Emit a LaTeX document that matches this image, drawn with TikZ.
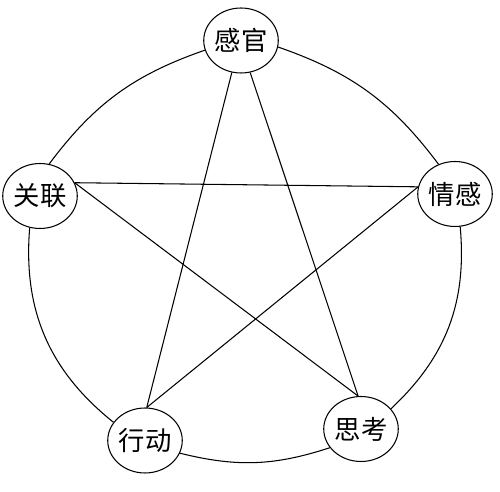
\documentclass[tikz,border=0pt]{standalone}
\usepackage{fontspec}
\setmainfont{Noto Sans CJK SC}
\usetikzlibrary{shapes.geometric}

\begin{document}
\begin{tikzpicture}[x=0.02cm,y=-0.02cm,
    stage/.style={shape=ellipse,draw=black,fill=white,line width=0.6pt,minimum width=1.44cm,minimum height=1.3cm,inner sep=0pt,font=\fontsize{15}{18}\selectfont},
    link/.style={-,draw=black,line width=0.6pt}]
    \useasboundingbox (0,0) rectangle (500,492);

    \node[stage] (G) at (241,40.5) {感官};
    \node[stage] (Q) at (455,194) {情感};
    \node[stage] (S) at (361,429) {思考};
    \node[stage] (X) at (145,440.5) {行动};
    \node[stage] (L) at (40,196) {关联};

    % outer ring
    \path [link](L.74) edge[bend left=17] (G.195);
    \path [link](G.-10) edge[bend left=17] (Q.119);
    \path [link](Q.-81) edge[bend left=26] (S.34);
    \path [link](S.211) edge[bend left=16] (X.-20);
    \path [link](X.150) edge[bend left=28] (L.-108);

    % star
    \path [link](G.-106) edge (X.87);
    \path [link](G.-74) edge (S.95);
    \path [link](L.21) edge (Q.169);
    \path [link](L.21) edge (S.95);
    \path [link](Q.169) edge (X.87);

\end{tikzpicture}
\end{document}
